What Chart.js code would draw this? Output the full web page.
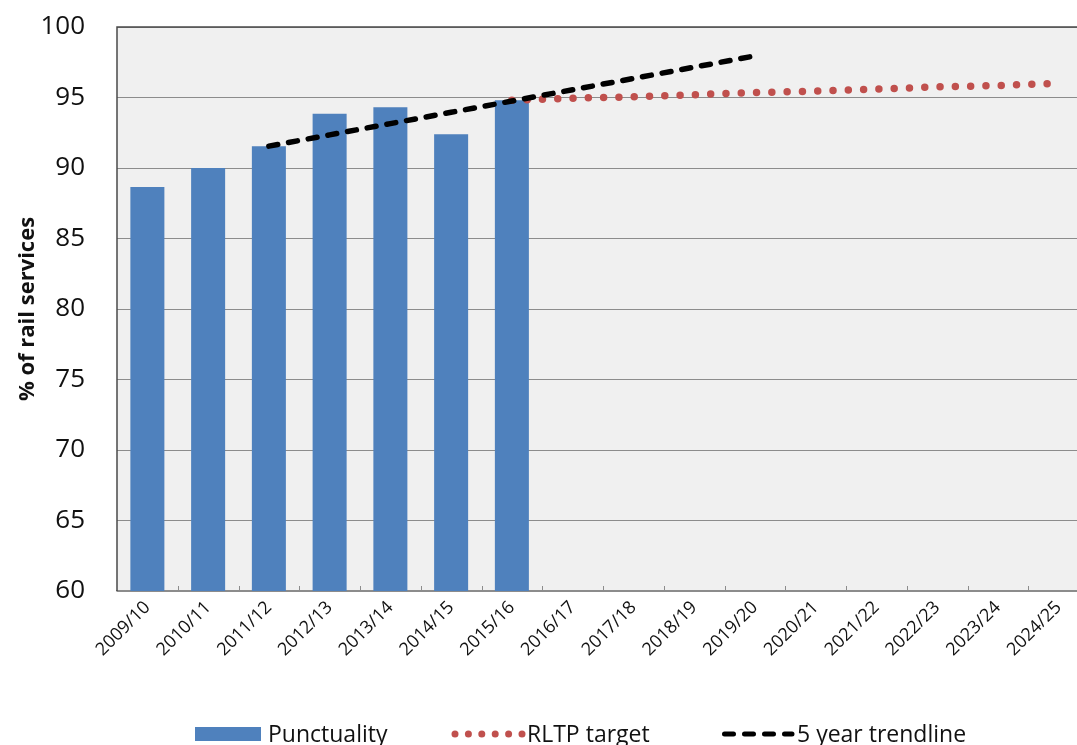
<!DOCTYPE html>
<html>
<head>
<meta charset="utf-8">
<script src="https://cdn.jsdelivr.net/npm/chart.js@4.4.1/dist/chart.umd.min.js"></script>
<style>
  html, body { margin: 0; padding: 0; background: #ffffff; overflow: hidden; }
  #wrap { width: 1077px; height: 745px; overflow: hidden; position: relative; }
  #box { width: 1092px; height: 745px; position: absolute; left: 0; top: 0; }
</style>
</head>
<body>
<div id="wrap"><div id="box"><canvas id="chart"></canvas></div></div>
<script>
// Financial years on the category axis
const years = ['2009/10', '2010/11', '2011/12', '2012/13', '2013/14', '2014/15', '2015/16',
               '2016/17', '2017/18', '2018/19', '2019/20', '2020/21', '2021/22', '2022/23',
               '2023/24', '2024/25'];

// Share of rail services on time (%), observed years only
const punctuality = [88.65, 90.0, 91.55, 93.85, 94.3, 92.4, 94.8,
                     null, null, null, null, null, null, null, null, null];

// Regional Land Transport Plan target path, 2015/16 to 2024/25
const rltpTarget = [null, null, null, null, null, null,
                    94.8, 94.95, 95.05, 95.2, 95.35, 95.45, 95.6, 95.75, 95.85, 96.0];

// Five year linear trend, 2011/12 to 2019/20
const trendline = [null, null, 91.55, 92.35, 93.15, 93.95, 94.75, 95.55, 96.35, 97.15, 97.95,
                   null, null, null, null, null];

// Value axis ticks
const yTicks = [60, 65, 70, 75, 80, 85, 90, 95, 100];

const FONT = "'Open Sans', 'Liberation Sans', sans-serif";
const BLUE = '#4F81BD';
const RED = '#C0504D';

const plotFrame = {
  id: 'plotFrame',
  beforeDraw(chart) {
    const { ctx, chartArea: a } = chart;
    ctx.save();
    ctx.fillStyle = '#F0F0F0';
    ctx.fillRect(a.left, a.top, a.right - a.left, a.bottom - a.top);
    ctx.restore();
  },
  beforeDatasetsDraw(chart) {
    const { ctx, chartArea: a, scales } = chart;
    ctx.save();
    // small inside tick marks at category boundaries
    const xs = scales.x;
    const w = (a.right - a.left) / years.length;
    ctx.strokeStyle = '#8C8C8C';
    ctx.lineWidth = 1;
    for (let i = 1; i < years.length; i++) {
      const x = Math.round(xs.getPixelForValue(i) - w / 2) + 0.5;
      ctx.beginPath();
      ctx.moveTo(x, a.bottom);
      ctx.lineTo(x, a.bottom - 5);
      ctx.stroke();
    }
    // darker top and left frame
    ctx.strokeStyle = '#4A4A4A';
    ctx.lineWidth = 1.5;
    ctx.beginPath();
    ctx.moveTo(a.left, a.bottom);
    ctx.lineTo(a.left, a.top);
    ctx.lineTo(a.right, a.top);
    ctx.stroke();
    ctx.restore();
  },
  afterDraw(chart) {
    const { ctx } = chart;
    ctx.save();
    ctx.font = '23px ' + FONT;
    ctx.textBaseline = 'alphabetic';
    const cy = 734;
    // Punctuality
    ctx.fillStyle = BLUE;
    ctx.fillRect(195, 727, 66, 14);
    ctx.fillStyle = '#111111';
    ctx.fillText('Punctuality', 268, 742);
    // RLTP target
    ctx.fillStyle = RED;
    for (let k = 0; k < 6; k++) {
      ctx.beginPath();
      ctx.arc(455 + k * 13.4, cy, 3.5, 0, Math.PI * 2);
      ctx.fill();
    }
    ctx.fillStyle = '#111111';
    ctx.fillText('RLTP target', 527, 742);
    // 5 year trendline
    ctx.strokeStyle = '#000000';
    ctx.lineWidth = 5;
    ctx.lineCap = 'round';
    ctx.setLineDash([9, 11]);
    ctx.beginPath();
    ctx.moveTo(724.5, cy);
    ctx.lineTo(792, cy);
    ctx.stroke();
    ctx.setLineDash([]);
    ctx.fillText('5 year trendline', 797, 742);
    ctx.restore();
  }
};

new Chart(document.getElementById('chart'), {
  type: 'bar',
  data: {
    labels: years,
    datasets: [
      {
        type: 'line',
        label: '5 year trendline',
        data: trendline,
        borderColor: '#000000',
        borderWidth: 5.5,
        borderDash: [9, 11],
        borderCapStyle: 'round',
        pointRadius: 0,
        fill: false,
        order: 1
      },
      {
        type: 'line',
        label: 'RLTP target',
        data: rltpTarget,
        borderColor: RED,
        borderWidth: 7.5,
        borderDash: [0, 15.3],
        borderCapStyle: 'round',
        pointRadius: 0,
        fill: false,
        order: 2
      },
      {
        type: 'bar',
        label: 'Punctuality',
        data: punctuality,
        backgroundColor: BLUE,
        borderWidth: 0,
        barPercentage: 0.56,
        categoryPercentage: 1.0,
        order: 3
      }
    ]
  },
  options: {
    responsive: true,
    maintainAspectRatio: false,
    animation: false,
    layout: { padding: { top: 27, right: 3, bottom: 0, left: 0 } },
    plugins: {
      legend: { display: false },
      tooltip: { enabled: false }
    },
    scales: {
      x: {
        offset: true,
        grid: { display: false, drawTicks: false },
        border: { display: true, color: '#8C8C8C', width: 1.5 },
        ticks: {
          font: { family: FONT, size: 18 },
          color: '#111111',
          minRotation: 45,
          maxRotation: 45,
          padding: 6,
          autoSkip: false
        },
        afterFit(scale) {
          scale.height = 154;
          scale.paddingLeft = 0;
          scale.paddingRight = 0;
        }
      },
      y: {
        min: 60,
        max: 100,
        afterBuildTicks(scale) { scale.ticks = yTicks.map(v => ({ value: v })); },
        grid: { color: '#8C8C8C', lineWidth: 1, drawTicks: false },
        border: { display: false },
        ticks: {
          font: { family: FONT, size: 26 },
          color: '#111111',
          padding: 32
        },
        title: {
          display: true,
          text: '% of rail services',
          font: { family: FONT, size: 22, weight: 'bold' },
          color: '#111111',
          padding: { top: 15, bottom: 0 }
        },
        afterFit(scale) {
          scale.width = 117;
          scale.paddingTop = 0;
          scale.paddingBottom = 0;
        }
      }
    }
  },
  plugins: [plotFrame]
});
</script>
</body>
</html>
